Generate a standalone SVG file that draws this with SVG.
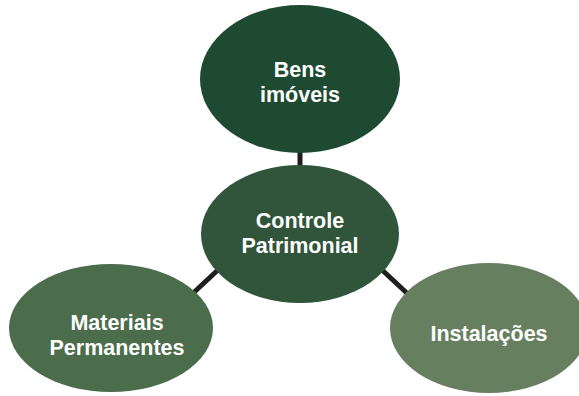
<svg xmlns="http://www.w3.org/2000/svg" width="579" height="396" viewBox="0 0 579 396">
<style>
.lbl{font-family:"Liberation Sans",Arial,sans-serif;font-weight:bold;font-size:21.5px;fill:#ffffff;text-anchor:middle}
.conn{stroke:#1e1e1e;stroke-width:5;fill:none}
</style>
<rect width="579" height="396" fill="#ffffff"/>
<g id="connectors">
<line class="conn" x1="300" y1="150" x2="300" y2="168"/>
<line class="conn" x1="220" y1="268" x2="190" y2="296"/>
<line class="conn" x1="380" y1="268" x2="410" y2="296"/>
</g>
<g id="bens-imoveis">
<ellipse cx="300" cy="79" rx="100" ry="74" fill="#1e4a32"/>
<text class="lbl" x="300" y="77">Bens<tspan x="300" dy="24.5">imóveis</tspan></text>
</g>
<g id="controle-patrimonial">
<ellipse cx="300" cy="234" rx="99" ry="69" fill="#30553a"/>
<text class="lbl" x="300" y="228">Controle<tspan x="300" dy="24.5">Patrimonial</tspan></text>
</g>
<g id="materiais-permanentes">
<ellipse cx="111" cy="328" rx="102" ry="64" fill="#4b6d4b"/>
<text class="lbl" x="117" y="330">Materiais<tspan x="117" dy="24.5">Permanentes</tspan></text>
</g>
<g id="instalacoes">
<ellipse cx="489" cy="328" rx="99" ry="65" fill="#667f5e"/>
<text class="lbl" x="489" y="341">Instalações</text>
</g>
</svg>
